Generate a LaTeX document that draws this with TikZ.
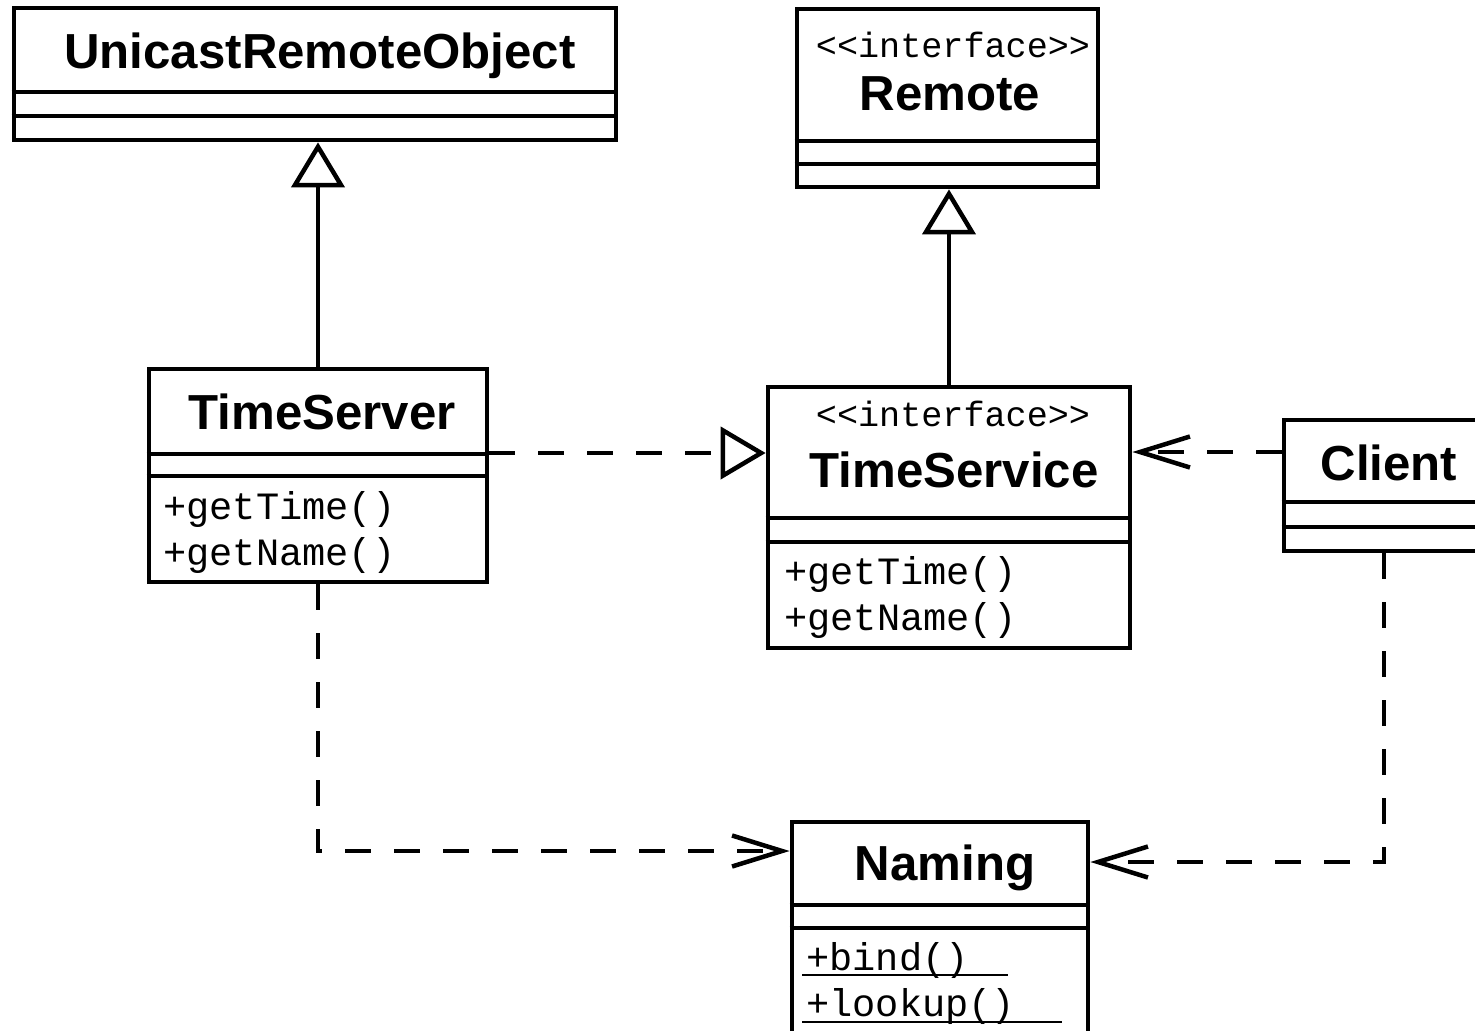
\documentclass[tikz,border=0pt]{standalone}
\usepackage{fontspec}
\setmainfont{Liberation Sans}
\setmonofont{Liberation Mono}
\usetikzlibrary{fit,arrows.meta}
\tikzset{
  cls/.style={draw, line width=0.095cm, inner sep=0pt},
  divider/.style={line width=0.095cm},
  title/.style={font=\bfseries\fontsize{28}{30}\selectfont, anchor=base, inner sep=0pt},
  stereo/.style={font=\ttfamily\fontsize{20}{22}\selectfont, anchor=base, inner sep=0pt},
  meth/.style={font=\ttfamily\fontsize{22}{24}\selectfont, anchor=base west, inner sep=0pt},
  uline/.style={line width=0.05cm},
  dep/.style={line width=0.09cm, dash pattern=on 0.52cm off 0.46cm, -{Straight Barb[length=1cm,width=0.62cm]}},
  real/.style={line width=0.09cm, dash pattern=on 0.52cm off 0.46cm, -{Triangle[open,length=0.9cm,width=1.04cm]}},
  gen/.style={line width=0.09cm, -{Triangle[open,length=0.9cm,width=1.06cm]}}
}
\begin{document}
\begin{tikzpicture}[x=0.02cm,y=-0.02cm]
\useasboundingbox (0,0) rectangle (1475,1031);
\clip (0,0) rectangle (1475,1031);
\fill[white] (0,0) rectangle (1475,1031);

% UnicastRemoteObject
\node[cls, fit={(14,8) (616,140)}] (uro) {};
\draw[divider] (uro.west |- 0,92) -- (uro.east |- 0,92);
\draw[divider] (uro.west |- 0,116) -- (uro.east |- 0,116);
\node[title] (urot) at (320,69) {UnicastRemoteObject};

% Remote
\node[cls, fit={(797,9) (1098,187)}] (rem) {};
\draw[divider] (rem.west |- 0,141) -- (rem.east |- 0,141);
\draw[divider] (rem.west |- 0,164) -- (rem.east |- 0,164);
\node[stereo] (remst) at (953,57) {<<interface>>};
\node[title] (remt) at (950,110) {Remote};

% TimeServer
\node[cls, fit={(149,369) (487,582)}] (ts) {};
\draw[divider] (ts.west |- 0,454) -- (ts.east |- 0,454);
\draw[divider] (ts.west |- 0,476) -- (ts.east |- 0,476);
\node[title] (tst) at (322,429) {TimeServer};
\node[meth] (tsm1) at (163,519) {+getTime()};
\node[meth] (tsm2) at (163,565) {+getName()};

% TimeService
\node[cls, fit={(768,387) (1130,648)}] (tsv) {};
\draw[divider] (tsv.west |- 0,518) -- (tsv.east |- 0,518);
\draw[divider] (tsv.west |- 0,542) -- (tsv.east |- 0,542);
\node[stereo] (tsvst) at (953,426) {<<interface>>};
\node[title] (tsvt) at (954,487) {TimeService};
\node[meth] (tsvm1) at (784,584) {+getTime()};
\node[meth] (tsvm2) at (784,630) {+getName()};

% Client
\node[cls, fit={(1284,420) (1520,551)}] (cl) {};
\draw[divider] (cl.west |- 0,502) -- (cl.east |- 0,502);
\draw[divider] (cl.west |- 0,527) -- (cl.east |- 0,527);
\node[title] (clt) at (1389,480) {Client};

% Naming
\node[cls, fit={(792,822) (1088,1080)}] (nm) {};
\draw[divider] (nm.west |- 0,905) -- (nm.east |- 0,905);
\draw[divider] (nm.west |- 0,928) -- (nm.east |- 0,928);
\node[title] (nmt) at (945,880) {Naming};
\node[meth] (nmm1) at (806,970) {+bind()};
\node[meth] (nmm2) at (806,1016) {+lookup()};
\draw[uline] (nmm1.base west |- 0,975) ++(-4,0) -- (1008,975);
\draw[uline] (nmm2.base west |- 0,1022) ++(-4,0) -- (1062,1022);

% connectors
\draw[gen] (ts.north) -- (ts.north |- uro.south);
\draw[gen] (tsv.north) -- (tsv.north |- rem.south);
\draw[real] (ts.east |- 0,453) -- (tsv.west |- 0,453);
\draw[dep] (cl.west |- 0,452) -- (tsv.east |- 0,452);
\draw[dep] (ts.south) -- (ts.south |- 0,851) -- (nm.west |- 0,851);
\draw[dep] (1384,0 |- cl.south) -- (1384,862) -- (nm.east |- 0,862);
\end{tikzpicture}
\end{document}
